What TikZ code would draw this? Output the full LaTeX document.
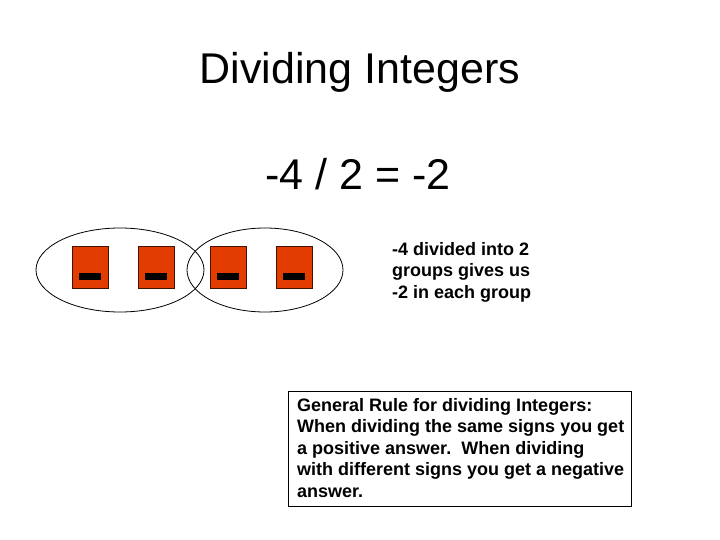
\documentclass[tikz,border=0pt]{standalone}
\usepackage{fontspec}
\setmainfont{Liberation Sans}
\usetikzlibrary{shapes.geometric}
\definecolor{tileorange}{RGB}{227,60,0}
\tikzset{
    group/.style={ellipse,draw=black,line width=0.8pt,minimum height=84pt,inner sep=0pt},
    tile/.style={rectangle,draw=black!70!tileorange,fill=tileorange,line width=0.6pt,minimum width=36pt,minimum height=42pt,inner sep=0pt},
    minus/.style={rectangle,fill=black,minimum width=22pt,minimum height=7pt,inner sep=0pt},
    big/.style={font=\fontsize{43}{50}\selectfont,inner sep=0pt},
    note/.style={font=\bfseries\fontsize{18}{21.5}\selectfont,align=left,inner sep=0pt},
    frame/.style={rectangle,draw=black,line width=0.8pt,minimum width=343pt,minimum height=115pt,inner sep=0pt},
}
\begin{document}
\begin{tikzpicture}[x=1pt,y=-1pt]
    \useasboundingbox (0,0) rectangle (720,540);
    \node[big,anchor=base] (title) at (360,84) {Dividing Integers};
    \node[big,anchor=base] (eq) at (358,190) {-4 / 2 = -2};
    \node[group,minimum width=168pt] (g1) at (120,270) {};
    \node[group,minimum width=156pt] (g2) at (265,270) {};
    \foreach \x/\n in {90/1,156/2,228/3,294/4} {
        \node[tile] (t\n) at (\x,267) {};
        \node[minus] (m\n) at ([yshift=-9pt]t\n.center) {};
    }
    \node[note,anchor=north west] (split) at (392,242) {-4 divided into 2\\groups gives us\\-2 in each group};
    \node[frame,anchor=north west] (rulebox) at (288,391) {};
    \node[note,anchor=north west] (rule) at (297,398) {General Rule for dividing Integers:\\When dividing the same signs you get\\a positive answer.\ \ When dividing\\with different signs you get a negative\\answer.};
\end{tikzpicture}
\end{document}
